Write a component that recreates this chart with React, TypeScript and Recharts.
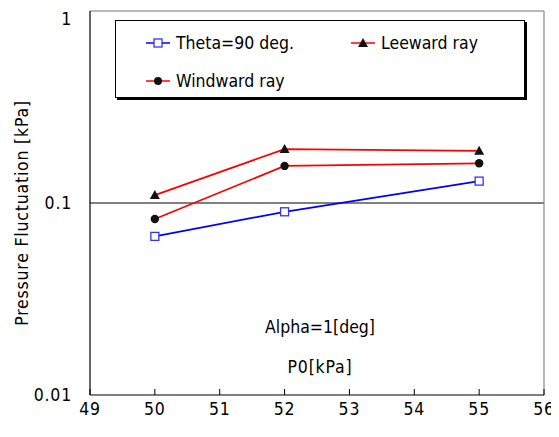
import React from 'react';
import { LineChart, Line, XAxis, YAxis, ReferenceLine, Customized } from 'recharts';

const pressures = [50, 52, 55];
const theta90 = [0.067, 0.09, 0.13];
const leeward = [0.11, 0.191, 0.187];
const windward = [0.0825, 0.156, 0.161];
const xTicks = [49, 50, 51, 52, 53, 54, 55, 56];
const yTicks = [0.01, 0.1, 1];
const seriesNames = ['Theta=90 deg.', 'Leeward ray', 'Windward ray'];
const yLabel = 'Pressure Fluctuation [kPa]';
const note = 'Alpha=1[deg]';
const xLabel = 'P0[kPa]';

const data = pressures.map((p, i) => ({ p, theta: theta90[i], lee: leeward[i], wind: windward[i] }));

const FONT = '"DejaVu Sans Condensed", "Liberation Sans", Arial, sans-serif';
const FS = 17.5;
const BLUE = '#0000ff';
const RED = '#ff0000';

const SquareDot = (props: any) => {
  const { cx, cy } = props;
  if (cx == null || cy == null) return null;
  return <rect x={cx - 4} y={cy - 4} width={8} height={8} fill="#fff" stroke="#3333ff" strokeWidth={1.3} />;
};
const TriDot = (props: any) => {
  const { cx, cy } = props;
  if (cx == null || cy == null) return null;
  return <path d={`M${cx},${cy - 5} L${cx + 5},${cy + 4} L${cx - 5},${cy + 4} Z`} fill="#111" />;
};
const CircDot = (props: any) => {
  const { cx, cy } = props;
  if (cx == null || cy == null) return null;
  return <circle cx={cx} cy={cy} r={4.2} fill="#111" />;
};

const Annotations = () => (
  <g fontFamily={FONT} fontSize={FS} fill="#000">
    <text x={312} y={319} textAnchor="middle" dominantBaseline="central">{note}</text>
    <text x={312} y={359} textAnchor="middle" dominantBaseline="central" letterSpacing={0.8}>{xLabel}</text>
    <text x={14} y={205} textAnchor="middle" dominantBaseline="central" letterSpacing={0.8} transform="rotate(-90 14 205)">{yLabel}</text>
  </g>
);

const LegendIcon = ({ kind }: { kind: number }) => (
  <svg width={24} height={12} style={{ position: 'absolute', left: 0, top: -6 }}>
    <line x1={0} y1={6} x2={24} y2={6} stroke={kind === 0 ? BLUE : RED} strokeWidth={1.5} />
    {kind === 0 && <rect x={8} y={2} width={8} height={8} fill="#fff" stroke="#3333ff" strokeWidth={1.3} />}
    {kind === 1 && <path d="M12,1 L17,10 L7,10 Z" fill="#111" />}
    {kind === 2 && <circle cx={12} cy={6} r={4} fill="#111" />}
  </svg>
);

const legendPos = [
  { left: 30, top: 22 },
  { left: 235, top: 22 },
  { left: 30, top: 60 },
];

const tickStyle = { fill: '#000', fontSize: FS, fontFamily: FONT, letterSpacing: 0.8 };

export default function App() {
  return (
    <div style={{ position: 'relative', width: 551, height: 429 }}>
      <LineChart width={551} height={429} data={data} margin={{ top: 3, right: 15, bottom: 12, left: 0 }} style={{ overflow: 'visible' }}>
        <XAxis
          dataKey="p"
          type="number"
          domain={[49, 56]}
          ticks={xTicks}
          interval={0}
          height={30}
          axisLine={{ stroke: '#000', strokeWidth: 1.2 }}
          tickLine={{ stroke: '#000' }}
          tickSize={-6}
          tickMargin={14}
          tick={tickStyle}
        />
        <YAxis
          scale="log"
          domain={[0.01, 1]}
          ticks={yTicks}
          allowDataOverflow
          width={82}
          axisLine={{ stroke: '#000', strokeWidth: 1.2 }}
          tickLine={false}
          tickSize={6}
          tickMargin={12}
          tickFormatter={(v: number) => String(v)}
          tick={tickStyle}
        />
        <ReferenceLine y={0.1} stroke="#000" strokeWidth={1} />
        <ReferenceLine y={1} stroke="#777" strokeWidth={1.2} />
        <ReferenceLine x={56} stroke="#888" strokeWidth={1.2} />
        <Line dataKey="theta" name={seriesNames[0]} stroke={BLUE} strokeWidth={1.8} dot={<SquareDot />} isAnimationActive={false} />
        <Line dataKey="lee" name={seriesNames[1]} stroke={RED} strokeWidth={1.8} dot={<TriDot />} isAnimationActive={false} />
        <Line dataKey="wind" name={seriesNames[2]} stroke={RED} strokeWidth={1.8} dot={<CircDot />} isAnimationActive={false} />
        <Customized component={Annotations} />
      </LineChart>
      <div
        style={{
          position: 'absolute',
          left: 107,
          top: 12,
          width: 408,
          height: 76,
          border: '1px solid #000',
          background: '#fff',
          boxShadow: '2px 2px 0 #000',
          fontFamily: FONT,
          fontSize: FS,
        }}
      >
        {seriesNames.map((n, i) => (
          <div key={n} style={{ position: 'absolute', left: legendPos[i].left, top: legendPos[i].top, whiteSpace: 'nowrap' }}>
            <LegendIcon kind={i} />
            <span style={{ position: 'absolute', left: 30, top: 0, transform: 'translateY(-50%)', lineHeight: '20px' }}>{n}</span>
          </div>
        ))}
      </div>
    </div>
  );
}
